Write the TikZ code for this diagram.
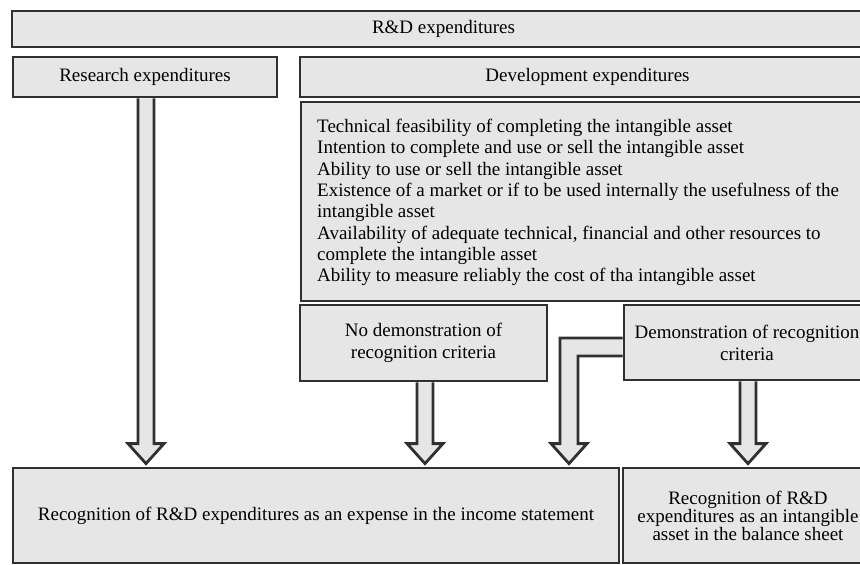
\documentclass[tikz,border=0pt]{standalone}
\usepackage{fontspec}
\setmainfont{Liberation Serif}
\usetikzlibrary{calc}
\definecolor{boxfill}{RGB}{230,230,230}
\definecolor{boxline}{RGB}{48,48,48}
\tikzset{
  box/.style={draw=boxline, line width=2.8pt, fill=boxfill, inner sep=0pt, align=center,
    font=\fontsize{19}{22}\selectfont},
  barrow/.style={draw=boxline, line width=2.8pt, fill=boxfill, line join=miter}
}
\newcommand\blockdown[3]{%
  \draw[barrow] let \p1=(#1.south), \p2=(#2.north) in
    (\x1+#3-8pt,\y1) -- (\x1+#3-8pt,\y2+23pt) -- (\x1+#3-18pt,\y2+23pt) --
    (\x1+#3,\y2+3pt) -- (\x1+#3+18pt,\y2+23pt) -- (\x1+#3+8pt,\y2+23pt) -- (\x1+#3+8pt,\y1);}
\begin{document}
\begin{tikzpicture}[x=1pt,y=-1pt]
\useasboundingbox (0,0) rectangle (860,565);
\clip (0,0) rectangle (860,565);
% boxes
\node[box, minimum width=863pt, minimum height=36pt] (rd) at (443.5,29) {R\&D expenditures};
\node[box, minimum width=264pt, minimum height=40pt] (res) at (145,77) {Research expenditures};
\node[box, minimum width=575pt, minimum height=40pt] (dev) at (587.5,77) {Development expenditures};
\node[box, minimum width=574pt, minimum height=199pt] (crit) at (588,201.5) {};
\node[inner sep=0pt, align=left, anchor=north west, font=\fontsize{19}{21.3}\selectfont] (crittext) at (317,119) {Technical feasibility of completing the intangible asset\\
Intention to complete and use or sell the intangible asset\\
Ability to use or sell the intangible asset\\
Existence of a market or if to be used internally the usefulness of the\\
intangible asset\\
Availability of adequate technical, financial and other resources to\\
complete the intangible asset\\
Ability to measure reliably the cost of tha intangible asset};
\node[box, minimum width=247pt, minimum height=76pt] (nodemo) at (423.5,343) {No demonstration of\\recognition criteria};
\node[box, minimum width=246pt, minimum height=75pt] (demo) at (747,342.5) {Demonstration of recognition\\criteria};
\node[box, minimum width=606pt, minimum height=95pt] (expense) at (316,515.5) {Recognition of R\&D expenditures as an expense in the income statement};
\node[box, minimum width=250pt, minimum height=95pt, font=\fontsize{19}{18}\selectfont] (asset) at (748,515.5) {Recognition of R\&D\\expenditures as an intangible\\asset in the balance sheet};
% block arrows
\blockdown{res}{expense}{1pt}
\blockdown{nodemo}{expense}{1.5pt}
\blockdown{demo}{asset}{1pt}
\draw[barrow] let \p1=(demo.west), \p2=(expense.north) in
  (\x1,\y1+4.5pt) -- (560pt,\y1+4.5pt) -- (560pt,\y2+23pt) -- (551pt,\y2+23pt) --
  (569pt,\y2+3pt) -- (587pt,\y2+23pt) -- (578pt,\y2+23pt) -- (578pt,\y1-13.5pt) -- (\x1,\y1-13.5pt);
\end{tikzpicture}
\end{document}
